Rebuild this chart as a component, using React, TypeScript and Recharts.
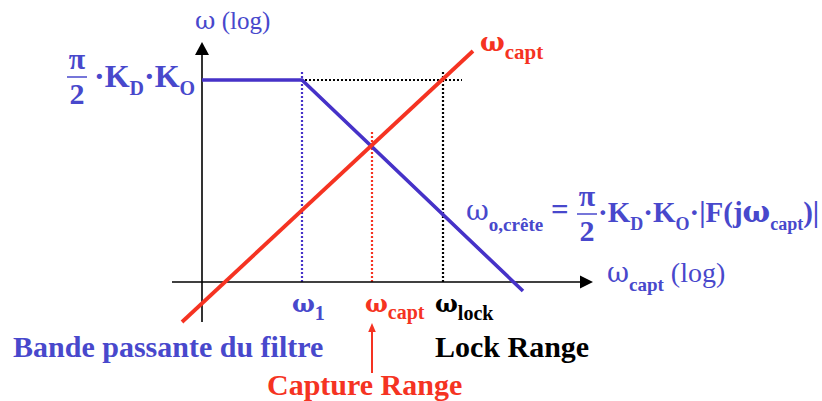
import React from 'react';
import { ComposedChart, Line, XAxis, YAxis, ReferenceLine, ReferenceDot } from 'recharts';

// ---- data (both axes are logarithmic, values in decades from the origin) ----
const omega1 = 2.0; // filter bandwidth ω1
const omegaCapt = 3.4; // capture frequency
const omegaLock = 4.82; // lock frequency
const plateau = 4.04; // π/2·KD·KO

// peak VCO deviation ωo,crête versus ωcapt
const peakDeviation = [
  { x: 0, y: 4.04 },
  { x: 2.0, y: 4.04 },
  { x: 6.42, y: -0.18 },
];
// the ωcapt = ωcapt diagonal
const captureDiagonal = [
  { x: -0.4, y: -0.8 },
  { x: 5.42, y: 4.62 },
];

const xAxisSpan = [-0.6, 7.82];
const yAxisSpan = [-0.8, 4.8];
const guideTop = 4.24;
const captGuideTop = 3.02;
const plateauGuideSpan = [2.06, 5.2];
const captureArrowSpan = [-1.82, -0.82];

// ---- styling ----
const W = 822;
const H = 401;
const X_DOMAIN: [number, number] = [-4.04, 12.4];
const Y_DOMAIN: [number, number] = [-2.38, 5.64];
const BLUE_LINE = '#4632c8';
const BLUE_TEXT = '#4848cc';
const RED = '#f53322';
const BLACK = '#000000';
const SERIF = '"Liberation Serif", "Times New Roman", serif';
const GREEK = '"DejaVu Serif", serif';

// a straight segment ending in a filled arrow head
const arrowShape = (len: number, half: number, color: string, width: number) => (p: any) => {
  const { x1, y1, x2, y2 } = p;
  const dx = x2 - x1;
  const dy = y2 - y1;
  const d = Math.hypot(dx, dy) || 1;
  const ux = dx / d;
  const uy = dy / d;
  const bx = x2 - ux * len;
  const by = y2 - uy * len;
  const nx = -uy * half;
  const ny = ux * half;
  return (
    <g>
      <line x1={x1} y1={y1} x2={bx} y2={by} stroke={color} strokeWidth={width} />
      <polygon points={`${x2},${y2} ${bx + nx},${by + ny} ${bx - nx},${by - ny}`} fill={color} />
    </g>
  );
};

// text group placed at a data coordinate
const tag = (key: string, x: number, y: number, content: React.ReactNode) => (
  <ReferenceDot
    key={key}
    x={x}
    y={y}
    r={0}
    ifOverflow="visible"
    shape={(p: any) => <g transform={`translate(${p.cx},${p.cy})`}>{content}</g>}
  />
);

const Omega = () => <tspan fontFamily={GREEK}>ω</tspan>;

const PiOver2 = ({ cx, bar, color }: { cx: number; bar: number; color: string }) => (
  <g fontFamily={SERIF} fontWeight="bold" fill={color} textAnchor="middle">
    <text x={cx} y={bar - 8} fontSize={30}>π</text>
    <line x1={cx - 10} x2={cx + 10} y1={bar} y2={bar} stroke={color} strokeWidth={1.5} />
    <text x={cx} y={bar + 27} fontSize={30}>2</text>
  </g>
);

const guide = (key: string, pts: { x: number; y: number }[], color: string) => (
  <ReferenceLine
    key={key}
    segment={pts}
    stroke={color}
    strokeWidth={2.2}
    strokeDasharray="2 2"
    ifOverflow="visible"
  />
);

export default function App() {
  return (
    <div style={{ position: 'fixed', left: 0, top: 0, width: W, height: H, background: '#fff' }}>
      <ComposedChart width={W} height={H} margin={{ top: 0, right: 0, bottom: 0, left: 0 }}>
        <XAxis type="number" dataKey="x" domain={X_DOMAIN} hide allowDataOverflow />
        <YAxis type="number" dataKey="y" domain={Y_DOMAIN} hide allowDataOverflow />

        {/* dotted guides */}
        {guide('g1', [{ x: omega1, y: 0 }, { x: omega1, y: guideTop }], BLUE_LINE)}
        {guide('gc', [{ x: omegaCapt, y: 0 }, { x: omegaCapt, y: captGuideTop }], RED)}
        {guide('gl', [{ x: omegaLock, y: 0 }, { x: omegaLock, y: guideTop }], BLACK)}
        {guide('gp', [{ x: plateauGuideSpan[0], y: plateau }, { x: plateauGuideSpan[1], y: plateau }], BLACK)}

        {/* axes */}
        <ReferenceLine
          segment={[{ x: xAxisSpan[0], y: 0 }, { x: xAxisSpan[1], y: 0 }]}
          ifOverflow="visible"
          shape={arrowShape(13, 6.5, BLACK, 1.6)}
        />
        <ReferenceLine
          segment={[{ x: 0, y: yAxisSpan[0] }, { x: 0, y: yAxisSpan[1] }]}
          ifOverflow="visible"
          shape={arrowShape(13, 7, BLACK, 1.6)}
        />

        <Line
          data={peakDeviation}
          dataKey="y"
          type="linear"
          stroke={BLUE_LINE}
          strokeWidth={3.6}
          dot={false}
          activeDot={false}
          isAnimationActive={false}
        />
        <Line
          data={captureDiagonal}
          dataKey="y"
          type="linear"
          stroke={RED}
          strokeWidth={3.8}
          dot={false}
          activeDot={false}
          isAnimationActive={false}
        />

        {/* capture range pointer */}
        <ReferenceLine
          segment={[{ x: omegaCapt, y: captureArrowSpan[0] }, { x: omegaCapt, y: captureArrowSpan[1] }]}
          ifOverflow="visible"
          shape={arrowShape(9, 3.8, RED, 2)}
        />

        {tag(
          'ylab',
          0,
          yAxisSpan[1],
          <text x={-7} y={-13} fontFamily={SERIF} fontSize={25} fill={BLUE_TEXT}>
            <Omega /> (log)
          </text>
        )}

        {tag(
          'plateau',
          0,
          plateau,
          <g>
            <PiOver2 cx={-125} bar={-3} color={BLUE_TEXT} />
            <text x={-108} y={7} fontFamily={SERIF} fontSize={32} fontWeight="bold" fill={BLUE_TEXT}>
              ·K<tspan dy={8} fontSize={20}>D</tspan>
              <tspan dy={-8}>·K</tspan>
              <tspan dy={8} fontSize={20}>O</tspan>
            </text>
          </g>
        )}

        {tag(
          'diag',
          captureDiagonal[1].x,
          captureDiagonal[1].y,
          <text x={7} y={0} fontFamily={SERIF} fontSize={26} fontWeight="bold" fill={RED}>
            <Omega />
            <tspan dy={8} fontSize={21}>capt</tspan>
          </text>
        )}

        {tag(
          'formula',
          omegaLock,
          0,
          <g fontFamily={SERIF} fill={BLUE_TEXT}>
            <text x={23} y={-62} fontSize={28}>
              <Omega />
              <tspan dy={11} fontSize={19} fontWeight="bold">o,crête</tspan>
              <tspan dy={-11} fontSize={31} fontWeight="bold"> =</tspan>
            </text>
            <PiOver2 cx={144} bar={-68} color={BLUE_TEXT} />
            <text x={155} y={-60} fontSize={29} fontWeight="bold">
              ·K<tspan dy={8} fontSize={18}>D</tspan>
              <tspan dy={-8}>·K</tspan>
              <tspan dy={8} fontSize={18}>O</tspan>
              <tspan dy={-8}>·|F(j</tspan>
              <Omega />
              <tspan dy={8} fontSize={18}>capt</tspan>
              <tspan dy={-8}>)|</tspan>
            </text>
          </g>
        )}

        {tag(
          'xlab',
          xAxisSpan[1],
          0,
          <text x={14} y={0} fontFamily={SERIF} fontSize={27} fill={BLUE_TEXT}>
            <Omega />
            <tspan dy={9} fontSize={19} fontWeight="bold">capt</tspan>
            <tspan dy={-9} fontSize={28}> (log)</tspan>
          </text>
        )}

        {tag(
          'w1',
          omega1,
          0,
          <text x={-10} y={30} fontFamily={SERIF} fontSize={24} fontWeight="bold" fill={BLUE_TEXT}>
            <Omega />
            <tspan dy={8} fontSize={20}>1</tspan>
          </text>
        )}
        {tag(
          'wc',
          omegaCapt,
          0,
          <text x={-7} y={30} fontFamily={SERIF} fontSize={24} fontWeight="bold" fill={RED}>
            <Omega />
            <tspan dy={7} fontSize={20}>capt</tspan>
          </text>
        )}
        {tag(
          'wl',
          omegaLock,
          0,
          <text x={-8} y={30} fontFamily={SERIF} fontSize={24} fontWeight="bold" fill={BLACK}>
            <Omega />
            <tspan dy={8} fontSize={20}>lock</tspan>
          </text>
        )}

        {tag(
          'band',
          omega1,
          0,
          <text x={-289} y={75} fontFamily={SERIF} fontSize={30} fontWeight="bold" fill={BLUE_TEXT}>
            Bande passante du filtre
          </text>
        )}
        {tag(
          'lock',
          omegaLock,
          0,
          <text x={-8} y={75} fontFamily={SERIF} fontSize={30} fontWeight="bold" fill={BLACK}>
            Lock Range
          </text>
        )}
        {tag(
          'capt',
          omegaCapt,
          0,
          <text x={-105} y={113} fontFamily={SERIF} fontSize={30} fontWeight="bold" fill={RED}>
            Capture Range
          </text>
        )}
      </ComposedChart>
    </div>
  );
}
